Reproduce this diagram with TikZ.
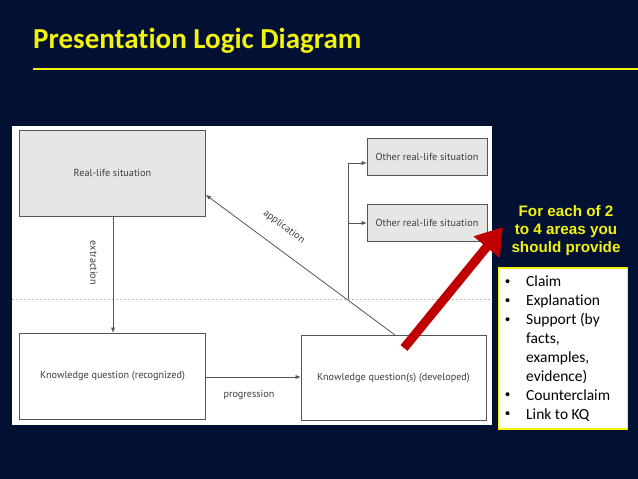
\documentclass[tikz,border=0pt]{standalone}
\usepackage{fontspec}
\setmainfont{Carlito}[Ligatures=NoCommon]
\newfontfamily\arialf{Liberation Sans}
\newfontfamily\diagf{PT Sans}
\usetikzlibrary{arrows.meta}
\definecolor{bgnavy}{HTML}{021133}
\definecolor{ttlyellow}{HTML}{F2F20F}
\definecolor{boxgray}{HTML}{E6E6E6}
\definecolor{linegray}{HTML}{555555}
\definecolor{txtgray}{HTML}{3C3C3C}
\definecolor{arrred}{HTML}{C00000}
\newcommand{\bul}{\makebox[21pt][l]{\raisebox{0.5pt}{\arialf\fontsize{14.5}{14}\selectfont\textbullet}}}
\tikzset{
  dbox/.style={draw=linegray, line width=0.9pt, inner sep=0pt, text=txtgray, font=\diagf\fontsize{10.2}{12}\selectfont},
  grayb/.style={dbox, fill=boxgray},
  whiteb/.style={dbox, fill=white},
  conn/.style={draw=linegray, line width=0.8pt},
  arr/.style={conn, -{Triangle[length=5pt,width=3.6pt]}},
  lbl/.style={text=txtgray, font=\diagf\fontsize{10.2}{12}\selectfont, inner sep=0pt}
}
\begin{document}
\begin{tikzpicture}[x=1pt,y=-1pt]
\useasboundingbox (0,0) rectangle (638,479);
\fill[bgnavy] (0,0) rectangle (638,479);
% title
\node[anchor=base west, text=ttlyellow, font=\bfseries\fontsize{29}{34}\selectfont, inner sep=0pt] (title) at (33,48) {Presentation Logic Diagram};
\coordinate (ruleL) at (33,69);
\coordinate (ruleR) at (638,69);
\draw[ttlyellow, line width=2.2pt] (ruleL) -- (ruleR);
% white panel
\fill[white] (12,126) rectangle (492,425);
% dotted separator
\coordinate (dotL) at (12,299);
\coordinate (dotR) at (492,299);
\draw[gray!55, dash pattern=on 2pt off 2pt, line width=0.8pt] (dotL) -- (dotR);
% boxes
\node[grayb, minimum width=186pt, minimum height=86pt] (rls) at (112.5,173) {Real-life situation};
\node[grayb, minimum width=120pt, minimum height=37pt] (o1) at (427,156.5) {Other real-life situation};
\node[grayb, minimum width=120pt, minimum height=37pt] (o2) at (427,222.5) {Other real-life situation};
\node[whiteb, minimum width=186pt, minimum height=86pt] (kqr) at (112.5,376) {Knowledge question (recognized)};
\node[whiteb, minimum width=185pt, minimum height=85pt] (kqd) at (393.5,377.5) {Knowledge question(s) (developed)};
% extraction
\draw[arr] (rls.south -| 113,0) -- (kqr.north -| 113,0);
\node[lbl, rotate=-90] (ext) at (94,263) {extraction};
% progression
\draw[arr] (kqr.east |- 0,377) -- (kqd.west |- 0,377);
\node[lbl] (prog) at (249,395) {progression};
% application
\coordinate (appS) at (395,335);
\draw[arr] (appS) -- (rls.east |- 0,195);
\node[lbl, rotate=-36.5] (appl) at (284,227) {application};
% branch to other situations
\coordinate (br) at (348,299);
\coordinate (brTop) at (348,163);
\draw[conn] (br) -- (brTop);
\draw[arr] (brTop) -- (o1.west |- brTop);
\coordinate (brMid) at (348,223);
\draw[arr] (brMid) -- (o2.west |- brMid);
% red arrow
\coordinate (redS) at (404,348);
\coordinate (redE) at (503,227);
\draw[arrred, line width=9pt, -{Triangle[length=26pt,width=32pt]}] (redS) -- (redE);
% right text
\node[align=center, text=ttlyellow, font=\arialf\bfseries\fontsize{15.2}{18}\selectfont, inner sep=0pt] (hdr) at (566,231) {For each of 2\\to 4 areas you\\should provide};
\node[draw=ttlyellow, fill=white, line width=1.5pt, minimum width=129pt, minimum height=161pt, inner sep=0pt] (listbox) at (563,348.5) {};
\node[anchor=north west, align=left, text=black, font=\fontsize{15.5}{18.9}\selectfont, inner sep=0pt] (list) at (505,276) {%
\bul Claim\\
\bul Explanation\\
\bul Support (by\\
\hspace*{21pt}facts,\\
\hspace*{21pt}examples,\\
\hspace*{21pt}evidence)\\
\bul Counterclaim\\
\bul Link to KQ};
\end{tikzpicture}
\end{document}
